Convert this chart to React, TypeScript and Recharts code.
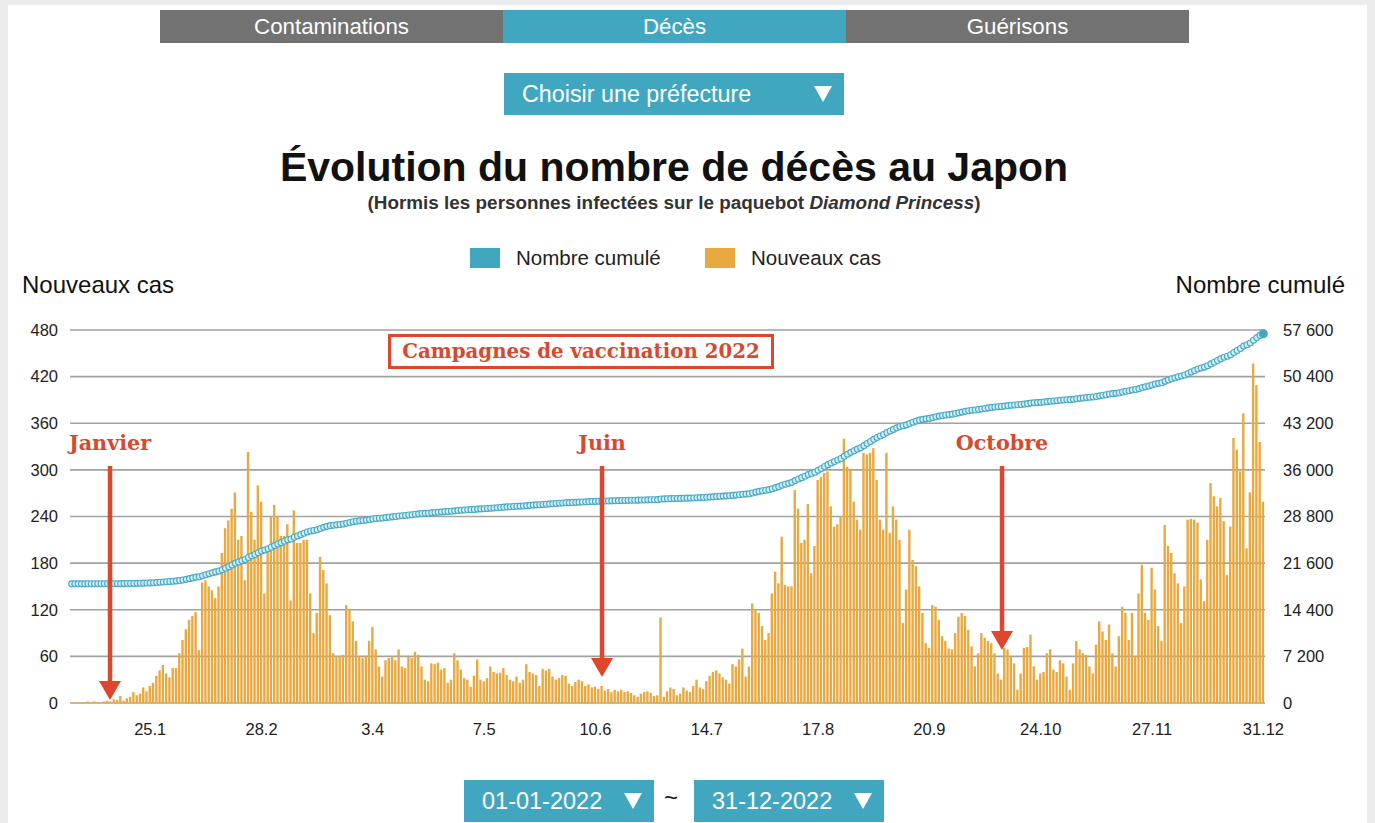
import React from 'react';
import { ComposedChart, Bar, Line, XAxis, YAxis, CartesianGrid } from 'recharts';

// nouveaux décès par jour, 2022
const JAN = [1, 0, 1, 0, 1, 2, 1, 2, 1, 0, 2, 3, 2, 5, 4, 9, 3, 6, 8, 14, 10, 12, 20, 15, 22, 26, 35, 42, 49, 38, 33];
const FEB = [45, 45, 64, 81, 95, 107, 112, 117, 68, 155, 158, 150, 145, 135, 150, 193, 225, 235, 250, 271, 210, 215, 158, 323, 246, 210, 280, 259];
const MAR = [141, 200, 240, 255, 240, 215, 215, 230, 132, 248, 206, 206, 210, 210, 141, 90, 116, 188, 171, 154, 113, 64, 60, 60, 62, 126, 120, 105, 80, 60, 58];
const APR = [60, 80, 98, 69, 47, 34, 55, 58, 60, 55, 69, 47, 45, 60, 58, 66, 62, 47, 30, 28, 51, 50, 52, 43, 45, 26, 30, 64, 55, 43];
const MAY = [32, 30, 21, 35, 56, 30, 28, 32, 47, 40, 38, 39, 45, 36, 30, 28, 34, 26, 30, 50, 40, 38, 36, 22, 44, 42, 44, 34, 30, 32, 36];
const JUN = [35, 25, 22, 27, 30, 28, 22, 24, 20, 21, 18, 22, 16, 18, 14, 17, 15, 17, 14, 15, 13, 10, 8, 12, 14, 15, 13, 9, 10, 110];
const JUL = [8, 15, 20, 18, 10, 12, 20, 16, 14, 22, 30, 20, 18, 28, 35, 40, 42, 38, 33, 30, 25, 50, 47, 56, 70, 34, 47, 128, 120, 116, 99];
const AUG = [81, 90, 141, 169, 154, 214, 152, 150, 150, 274, 250, 206, 210, 256, 167, 202, 287, 291, 296, 298, 253, 227, 230, 240, 340, 304, 300, 259, 236, 223, 322];
const SEP = [320, 322, 328, 287, 236, 223, 322, 219, 253, 236, 210, 103, 146, 223, 184, 176, 150, 116, 77, 71, 126, 124, 107, 86, 80, 70, 69, 90, 111, 116];
const OCT = [112, 94, 73, 47, 64, 90, 84, 80, 77, 64, 38, 30, 71, 69, 60, 51, 17, 38, 71, 72, 88, 47, 30, 38, 40, 64, 69, 43, 40, 55, 51];
const NOV = [34, 17, 51, 80, 69, 64, 62, 47, 38, 75, 105, 92, 81, 101, 64, 47, 86, 124, 116, 81, 116, 60, 141, 178, 116, 107, 174, 146, 99, 80];
const DEC = [229, 202, 193, 167, 154, 103, 150, 236, 237, 236, 232, 159, 131, 210, 283, 266, 253, 264, 234, 165, 227, 341, 326, 298, 373, 199, 271, 437, 409, 336, 259];

const MONTHS = [JAN, FEB, MAR, APR, MAY, JUN, JUL, AUG, SEP, OCT, NOV, DEC];
const CUMUL_DEBUT = 18400; // cumul au 31.12.2021

const X_TICKS = ['25.1', '28.2', '3.4', '7.5', '10.6', '14.7', '17.8', '20.9', '24.10', '27.11', '31.12'];
const LEFT_TICKS = [0, 60, 120, 180, 240, 300, 360, 420, 480];
const RIGHT_TICKS = [0, 7200, 14400, 21600, 28800, 36000, 43200, 50400, 57600];

let total = CUMUL_DEBUT;
const data = MONTHS.flatMap((vals, m) =>
  vals.map((v, i) => {
    total += v;
    return { date: `${i + 1}.${m + 1}`, nouveaux: v, cumul: total };
  })
);

const SANS = '"Liberation Sans", Arial, Helvetica, sans-serif';
const SERIF = '"DejaVu Serif", Georgia, serif';
const TEAL = '#41a7c0';
const GREY = '#727272';
const ORANGE = '#e9a941';
const RED = '#e0462b';
const RED_TXT = '#d64a2e';

const fmt = (v: number) => String(v).replace(/\B(?=(\d{3})+(?!\d))/g, ' ');

const CumulDot = (props: any) => {
  const { cx, cy, index } = props;
  if (index === data.length - 1) {
    return <circle key={`c${index}`} cx={cx} cy={cy} r={4.5} fill="#45a8c3" />;
  }
  return <circle key={`c${index}`} cx={cx} cy={cy} r={3} fill="#d2eff6" stroke="#4aa9c4" strokeWidth={1.1} />;
};

const Tri = ({ x, y }: { x: number; y: number }) => (
  <svg style={{ position: 'absolute', left: x, top: y }} width={18} height={16}>
    <polygon points="0,0 18,0 9,16" fill="#fff" />
  </svg>
);

const box = (left: number, top: number, w: number, h: number, bg: string, fs = 22): React.CSSProperties => ({
  position: 'absolute', left, top, width: w, height: h, background: bg, color: '#fff',
  fontSize: fs, lineHeight: `${h}px`,
});

export default function App() {
  return (
    <div style={{ position: 'relative', width: 1375, height: 823, background: '#ececec', fontFamily: SANS, overflow: 'hidden' }}>
      <style>{'body{margin:0;}'}</style>
      <div style={{ position: 'absolute', left: 8, top: 5, width: 1359, height: 818, background: '#fff' }} />

      {/* onglets */}
      <div style={{ ...box(160, 10, 343, 33, GREY, 22.3), textAlign: 'center' }}>Contaminations</div>
      <div style={{ ...box(503, 10, 343, 33, TEAL, 22.3), textAlign: 'center' }}>Décès</div>
      <div style={{ ...box(846, 10, 343, 33, GREY, 22.3), textAlign: 'center' }}>Guérisons</div>

      <div style={box(504, 73, 340, 42, TEAL, 23.3)}>
        <span style={{ position: 'absolute', left: 18 }}>Choisir une préfecture</span>
        <Tri x={310} y={13} />
      </div>

      <div style={{ position: 'absolute', left: 0, width: 1348, top: 146, height: 42, lineHeight: '42px', textAlign: 'center', fontSize: 41, fontWeight: 'bold', color: '#111' }}>
        Évolution du nombre de décès au Japon
      </div>
      <div style={{ position: 'absolute', left: 0, width: 1348, top: 192, height: 22, lineHeight: '22px', textAlign: 'center', fontSize: 18.9, fontWeight: 'bold', color: '#333' }}>
        (Hormis les personnes infectées sur le paquebot <i>Diamond Princess</i>)
      </div>

      {/* légende */}
      <div style={{ position: 'absolute', left: 470, top: 248, width: 30, height: 20, background: TEAL }} />
      <div style={{ position: 'absolute', left: 516, top: 246, lineHeight: '24px', fontSize: 20.5, color: '#222' }}>Nombre cumulé</div>
      <div style={{ position: 'absolute', left: 705, top: 248, width: 30, height: 20, background: ORANGE }} />
      <div style={{ position: 'absolute', left: 751, top: 246, lineHeight: '24px', fontSize: 20.5, color: '#222' }}>Nouveaux cas</div>

      <div style={{ position: 'absolute', left: 22, top: 271, lineHeight: '28px', fontSize: 24, color: '#111' }}>Nouveaux cas</div>
      <div style={{ position: 'absolute', right: 1375 - 1345, top: 271, lineHeight: '28px', fontSize: 24, color: '#111' }}>Nombre cumulé</div>

      <div style={{ position: 'absolute', left: 0, top: 300 }}>
        <ComposedChart width={1375} height={460} data={data} margin={{ top: 30, right: 0, bottom: 0, left: 0 }}>
          <CartesianGrid vertical={false} stroke="#a2a2a2" strokeWidth={1.6} yAxisId="left" />
          <XAxis dataKey="date" ticks={X_TICKS} interval={0} height={57} axisLine={false} tickLine={false}
            tickMargin={14} tick={{ fontSize: 16.5, fill: '#222', fontFamily: SANS }} />
          <YAxis yAxisId="left" orientation="left" width={70} domain={[0, 480]} ticks={LEFT_TICKS}
            axisLine={false} tickLine={false} tickMargin={6} tick={{ fontSize: 16.5, fill: '#222', fontFamily: SANS }} />
          <YAxis yAxisId="right" orientation="right" width={110} domain={[0, 57600]} ticks={RIGHT_TICKS}
            tickFormatter={fmt} axisLine={false} tickLine={false} tickMargin={12}
            tick={{ fontSize: 16.5, fill: '#222', fontFamily: SANS }} />
          <Bar yAxisId="left" dataKey="nouveaux" fill={ORANGE} barSize={2.4} isAnimationActive={false} />
          <Line yAxisId="right" dataKey="cumul" type="linear" stroke="#8fd0e0" strokeWidth={1.5} dot={CumulDot}
            activeDot={false} isAnimationActive={false} />
        </ComposedChart>
      </div>

      {/* annotations */}
      <div style={{ position: 'absolute', left: 388, top: 334, width: 380, height: 29, border: `3px solid ${RED}`, background: '#fff',
        color: RED_TXT, fontFamily: SERIF, fontWeight: 'bold', fontSize: 19.8, lineHeight: '29px', textAlign: 'center' }}>
        Campagnes de vaccination 2022
      </div>
      {[
        { label: 'Janvier', x: 110, tip: 700 },
        { label: 'Juin', x: 602, tip: 677 },
        { label: 'Octobre', x: 1002, tip: 650 },
      ].map((a) => (
        <div key={a.label}>
          <div style={{ position: 'absolute', left: a.x - 80, width: 160, top: 430, lineHeight: '26px', textAlign: 'center',
            color: RED_TXT, fontFamily: SERIF, fontWeight: 'bold', fontSize: 20.7 }}>{a.label}</div>
          <svg style={{ position: 'absolute', left: a.x - 12, top: 466 }} width={24} height={a.tip - 466}>
            <line x1={12} x2={12} y1={0} y2={a.tip - 466 - 16} stroke={RED} strokeWidth={4.5} />
            <polygon points={`1,${a.tip - 466 - 19} 23,${a.tip - 466 - 19} 12,${a.tip - 466}`} fill={RED} />
          </svg>
        </div>
      ))}

      {/* sélection des dates */}
      <div style={box(464, 780, 190, 42, TEAL, 23.5)}>
        <span style={{ position: 'absolute', left: 18 }}>01-01-2022</span>
        <Tri x={160} y={13} />
      </div>
      <div style={{ position: 'absolute', left: 664, top: 784, fontSize: 24, color: '#222' }}>~</div>
      <div style={box(694, 780, 190, 42, TEAL, 23.5)}>
        <span style={{ position: 'absolute', left: 18 }}>31-12-2022</span>
        <Tri x={160} y={13} />
      </div>
    </div>
  );
}
